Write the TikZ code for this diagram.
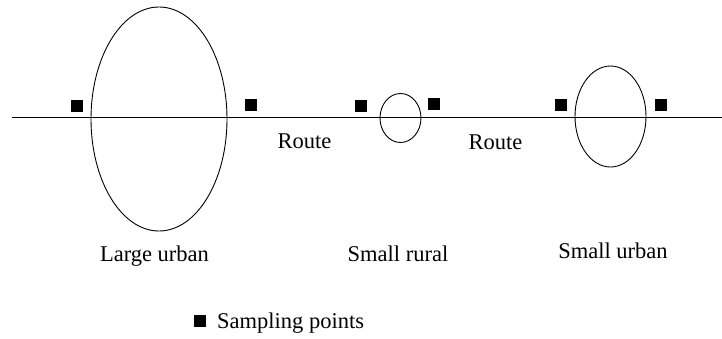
\documentclass[tikz,border=0pt]{standalone}
\usepackage{fontspec}
\setmainfont{Liberation Serif}
\usetikzlibrary{shapes.geometric}
\begin{document}
\begin{tikzpicture}[x=1pt,y=-1pt,
  town/.style={draw=black,line width=0.9pt,ellipse,inner sep=0pt},
  sample/.style={fill=black,draw=none,rectangle,minimum size=12pt,inner sep=0pt},
  lbl/.style={anchor=base,inner sep=0pt,font=\fontsize{22.5}{26}\selectfont}]
\useasboundingbox (0,0) rectangle (722,338);
\coordinate (rs) at (12,117);
\coordinate (re) at (722,117);
\draw[line width=1pt] (rs) -- (re);
\node[town,minimum width=136pt,minimum height=224pt] (lu) at (159,119) {};
\node[town,minimum width=41pt,minimum height=49pt] (sr) at (400.5,118) {};
\node[town,minimum width=71pt,minimum height=101pt] (su) at (610.5,116.5) {};
\node[sample] (p1) at (77,105.5) {};
\node[sample] (p2) at (251,105) {};
\node[sample] (p3) at (360.5,105.5) {};
\node[sample] (p4) at (434,103.5) {};
\node[sample] (p5) at (561,104.5) {};
\node[sample] (p6) at (660.5,104.5) {};
\node[lbl] (r1) at (304.5,148) {Route};
\node[lbl] (r2) at (495.5,149) {Route};
\node[lbl] (l1) at (154.5,261) {Large urban};
\node[lbl] (l2) at (398,261) {Small rural};
\node[lbl] (l3) at (613,258) {Small urban};
\node[sample] (lp) at (199.5,320.5) {};
\node[lbl,anchor=base west] (lt) at (217,328) {Sampling points};
\end{tikzpicture}
\end{document}
